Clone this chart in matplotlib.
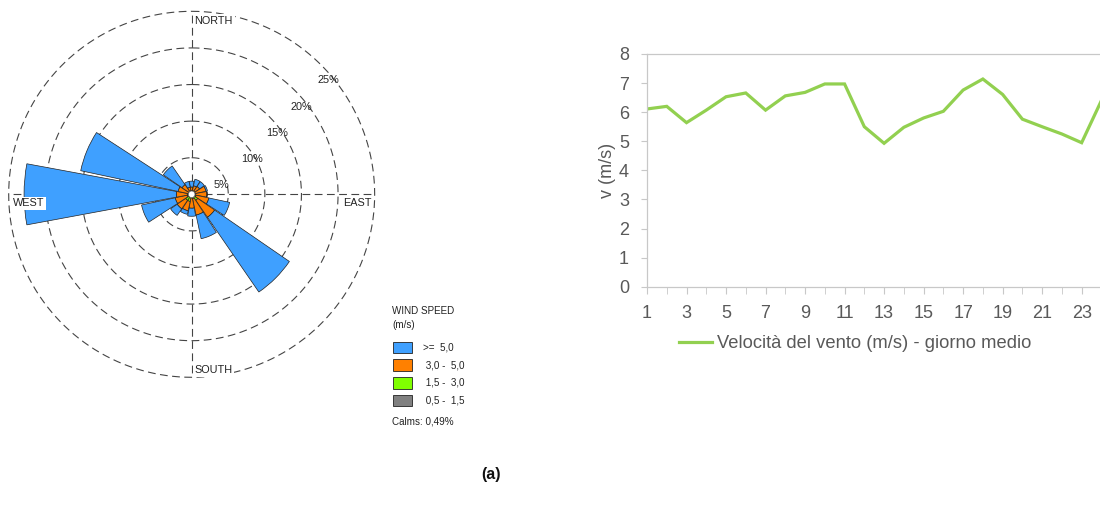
import numpy as np
import matplotlib
matplotlib.use("Agg")
import matplotlib.pyplot as plt
from matplotlib.patches import Rectangle

W, H = 1100, 507

# wind rose: 16 sectors, frequency (%) per speed class
directions = ["N", "NNE", "NE", "ENE", "E", "ESE", "SE", "SSE",
              "S", "SSW", "SW", "WSW", "W", "WNW", "NW", "NNW"]
freq_05_15 = [0.1, 0.1, 0.1, 0.1, 0.1, 0.1, 0.1, 0.1, 0.1, 0.1, 0.1, 0.1, 0.1, 0.1, 0.1, 0.1]
freq_15_30 = [0.4, 0.4, 0.4, 0.4, 0.4, 0.5, 0.9, 0.5, 0.4, 0.9, 0.9, 0.5, 0.5, 0.4, 0.4, 0.4]
freq_30_50 = [0.5, 0.7, 0.8, 1.5, 1.6, 1.8, 2.8, 2.3, 1.4, 1.3, 1.4, 1.7, 1.5, 1.4, 1.1, 0.5]
freq_ge_50 = [0.8, 0.9, 0.8, 0.2, 0.0, 2.9, 12.4, 3.3, 1.1, 0.5, 1.1, 4.7, 20.8, 13.6, 3.1, 0.8]
calms = 0.49
ring_levels = [5, 10, 15, 20, 25]

class_labels = [">=  5,0", " 3,0 -  5,0", " 1,5 -  3,0", " 0,5 -  1,5"]
class_colors = ["#3FA0FF", "#FF8000", "#80FF00", "#808080"]

# mean day wind speed
hours = list(range(1, 25))
speed = [6.11, 6.20, 5.64, 6.07, 6.53, 6.66, 6.07, 6.56, 6.68, 6.97, 6.97, 5.50,
         4.93, 5.48, 5.80, 6.03, 6.76, 7.14, 6.61, 5.76, 5.50, 5.25, 4.95, 6.40]


def px(x, y):
    return x / W, 1 - y / H


fig = plt.figure(figsize=(11, 5.07), dpi=100)

# ---- wind rose ----
ax = fig.add_axes([0.0079, 0.2558, 0.3327, 0.7219], projection="polar")
ax.set_theta_zero_location("N")
ax.set_theta_direction(-1)
ax.set_ylim(0, 25)
ax.grid(False)
ax.set_xticks([])
ax.set_yticks([])
ax.spines["polar"].set_visible(False)

grid_kw = dict(color="#444444", lw=0.8, ls=(0, (7, 4)), zorder=1, clip_on=False)
theta_c = np.linspace(0, 2 * np.pi, 361)
for r in ring_levels:
    ax.plot(theta_c, np.full_like(theta_c, r), **grid_kw)
for t in [0, np.pi / 2, np.pi, 3 * np.pi / 2]:
    ax.plot([t, t], [0, 25], **grid_kw)

theta = np.radians(np.arange(16) * 22.5)
width = np.radians(21)
bottom = np.zeros(16)
stack = [(freq_05_15, class_colors[3]), (freq_15_30, class_colors[2]),
         (freq_30_50, class_colors[1]), (freq_ge_50, class_colors[0])]
for vals, col in stack:
    vals = np.array(vals)
    ax.bar(theta, vals, width=width, bottom=bottom, color=col,
           edgecolor="#222222", linewidth=0.5, zorder=2)
    bottom += vals

ax.fill(theta_c, np.full_like(theta_c, 0.45), facecolor="white",
        edgecolor="#666666", linewidth=0.5, zorder=3)

lab_font = dict(family="Liberation Sans", fontsize=7.8, color="#222222")
box = dict(facecolor="white", edgecolor="none", pad=1.2)
fig.text(*px(194.5, 21), "NORTH", ha="left", va="center", bbox=box, **lab_font)
fig.text(*px(194.5, 370), "SOUTH", ha="left", va="center", bbox=box, **lab_font)
fig.text(*px(12.5, 203.5), "WEST", ha="left", va="center", bbox=box, **lab_font)
fig.text(*px(343, 203.5), "EAST", ha="left", va="center", bbox=box, **lab_font)

ring_pos = [(221.7, 185), (251.7, 159), (276.7, 132.7), (301.7, 107.3), (328.3, 80)]
for r, (x, y) in zip(ring_levels, ring_pos):
    fig.text(*px(x, y), f"{r}%", ha="center", va="center", **lab_font)

# legend of the rose
leg_font = dict(family="Liberation Sans", fontsize=7.1, color="#222222")
fig.text(*px(392.5, 311), "WIND SPEED", ha="left", va="center", **leg_font)
fig.text(*px(392.5, 325), "(m/s)", ha="left", va="center", **leg_font)
box_y = [341.7, 359.3, 376.9, 394.5]
for yb, col, lab in zip(box_y, class_colors, class_labels):
    x0, y0 = px(393.3, yb + 11.7)
    fig.add_artist(Rectangle((x0, y0), 19 / W, 11.7 / H, transform=fig.transFigure,
                             facecolor=col, edgecolor="#222222", linewidth=0.6))
    fig.text(*px(423, yb + 6), lab, ha="left", va="center", **leg_font)
fig.text(*px(392.5, 421), "Calms: " + f"{calms:.2f}".replace(".", ",") + "%",
         ha="left", va="center", **leg_font)

# ---- line chart ----
ax2 = fig.add_axes([647 / W, 0.4345, (1101.4 - 647) / W, 0.459])
ax2.plot(hours, speed, color="#92D050", lw=2.3, label="Velocità del vento (m/s) - giorno medio",
         solid_joinstyle="miter")
ax2.set_xlim(1, 24)
ax2.set_ylim(0, 8)
ax2.set_yticks(range(0, 9))
ax2.set_xticks(range(1, 25, 2))
ax2.set_xticks(range(2, 25, 2), minor=True)
for s in ["left", "bottom", "top"]:
    ax2.spines[s].set_color("#C8C8C8")
    ax2.spines[s].set_linewidth(0.9)
ax2.spines["right"].set_visible(False)
ax2.tick_params(axis="both", which="both", direction="out", color="#C8C8C8",
                labelcolor="#595959", labelsize=13)
ax2.tick_params(axis="x", which="both", length=5, pad=8)
ax2.tick_params(axis="y", length=4, pad=9)
for lbl in ax2.get_xticklabels() + ax2.get_yticklabels():
    lbl.set_family("Liberation Sans")
fig.text(*px(608, 170), "v (m/s)", rotation=90, ha="center", va="center",
         family="Liberation Sans", fontsize=13, color="#595959")
ax2.legend(loc="center left", bbox_to_anchor=px(679, 343.5), bbox_transform=fig.transFigure,
           frameon=False, borderaxespad=0, borderpad=0, handlelength=1.8, handletextpad=0.25,
           prop=dict(family="Liberation Sans", size=13.2), labelcolor="#595959")

fig.text(*px(491, 475), "(a)", ha="center", va="center", family="Liberation Sans",
         fontsize=11.5, fontweight="bold", color="#111111")

fig.savefig("out.png", dpi=100)
